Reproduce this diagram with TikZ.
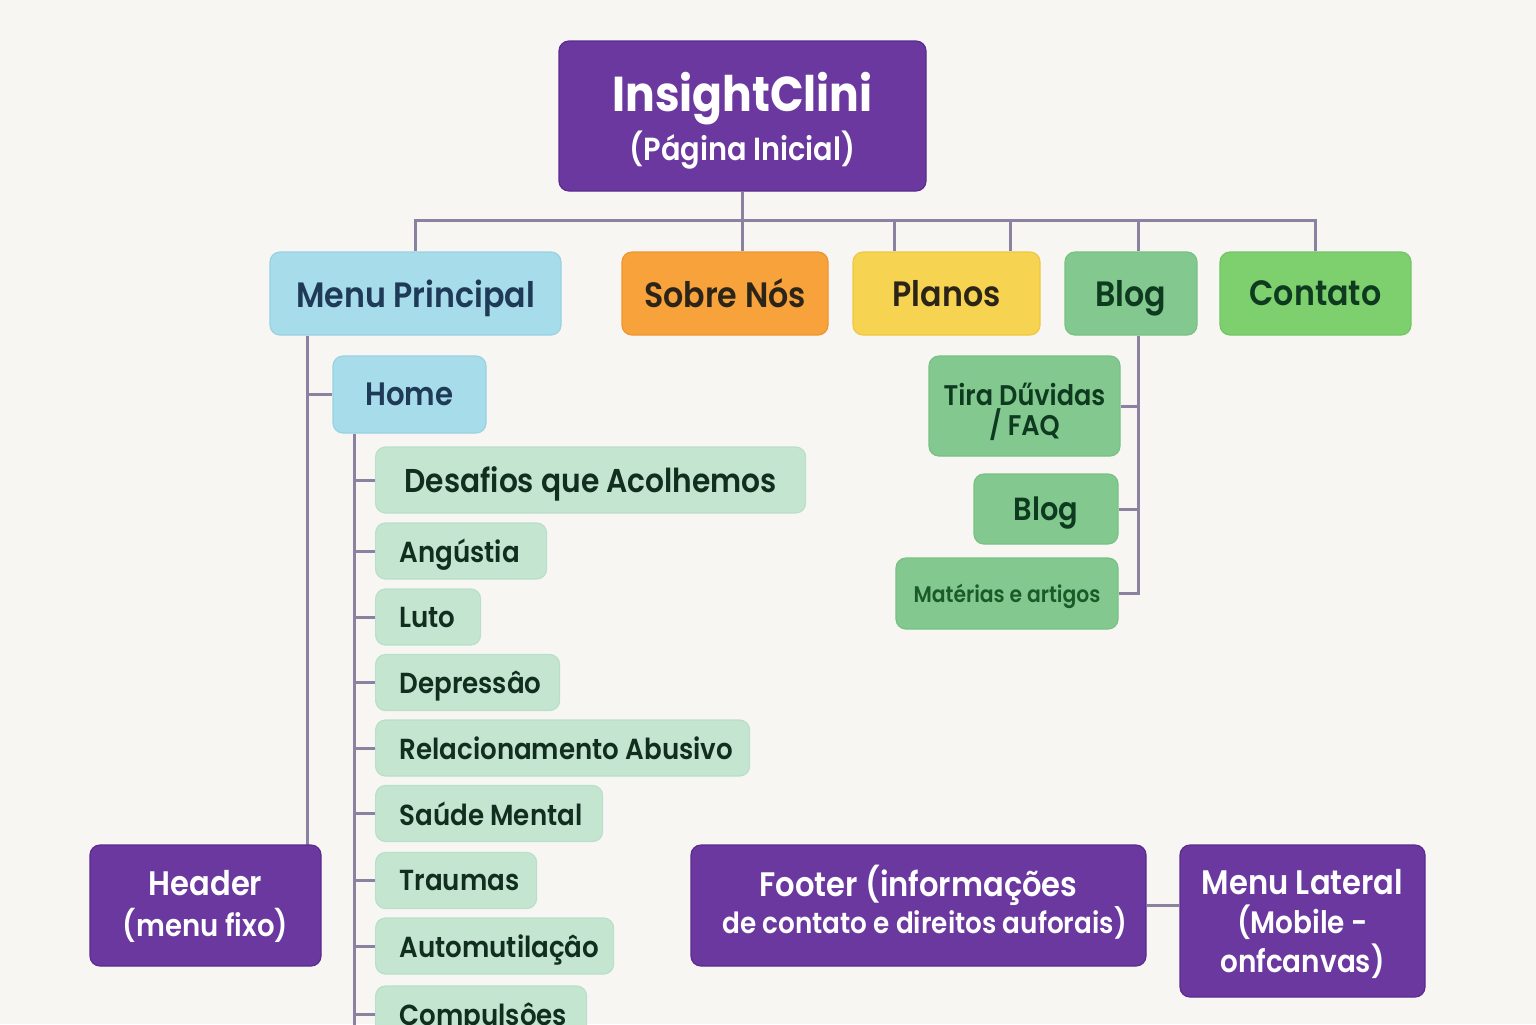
\documentclass[tikz,border=0pt]{standalone}
\usepackage{fontspec}
\setmainfont{Poppins}[FakeStretch=0.9, UprightFont=* SemiBold, BoldFont=* Bold]
\usetikzlibrary{positioning}

\definecolor{bg}{HTML}{F8F6F3}
\definecolor{wire}{HTML}{8A82A0}
\definecolor{purp}{HTML}{6A389F}
\definecolor{purpedge}{HTML}{5B2B8F}
\definecolor{sky}{HTML}{A7DCEA}
\definecolor{skyedge}{HTML}{9AD2E2}
\definecolor{navy}{HTML}{1E3A56}
\definecolor{orng}{HTML}{F7A23B}
\definecolor{orngedge}{HTML}{EE9530}
\definecolor{yell}{HTML}{F7D352}
\definecolor{yelledge}{HTML}{EFC744}
\definecolor{brown}{HTML}{2B2418}
\definecolor{leaf}{HTML}{83C98F}
\definecolor{leafedge}{HTML}{77C183}
\definecolor{lime}{HTML}{7ECF6E}
\definecolor{limeedge}{HTML}{72C663}
\definecolor{forest}{HTML}{0E3B20}
\definecolor{mint}{HTML}{C4E6D1}
\definecolor{mintedge}{HTML}{B9DFC8}
\definecolor{pine}{HTML}{112E1E}
\definecolor{grass}{HTML}{1B5A2A}

\tikzset{
  card/.style={rounded corners=5pt, line width=0.6pt, inner sep=0pt, align=center,
               text depth=0pt},
  purplecard/.style={card, fill=purp, draw=purpedge, text=white},
  skycard/.style={card, fill=sky, draw=skyedge, text=navy},
  mintitem/.style={card, fill=mint, draw=mintedge, text=pine, anchor=west,
                   inner xsep=12pt, minimum height=28pt,
                   font=\fontsize{14.5}{18}\selectfont},
  leafcard/.style={card, fill=leaf, draw=leafedge, text=forest},
  toplabel/.style={font=\fontsize{17.6}{21}\selectfont},
  link/.style={draw=wire, line width=1.5pt},
}
% lower a line of text without changing the space it takes
\newcommand\lowerby[2]{\raisebox{-#1}[\height][\depth]{#2}}

\begin{document}
\begin{tikzpicture}[x=0.5pt, y=-0.5pt]
  \useasboundingbox (0,0) rectangle (1536,1024);
  \fill[bg] (0,0) rectangle (1536,1024);
  \clip (0,0) rectangle (1536,1024);

  % root
  \node[purplecard, minimum width=183.5pt, minimum height=75pt] (root) at (742.5,116)
    {{\fontsize{24.5}{28}\selectfont\bfseries InsightClini}\\[2pt]{\fontsize{16}{19}\selectfont (Página Inicial)}};

  % first level
  \node[skycard, toplabel, minimum width=145.5pt, minimum height=41.5pt] (menu) at (415.5,293.5)
    {Menu Principal};
  \node[card, toplabel, fill=orng, draw=orngedge, text=brown, minimum width=103pt, minimum height=41.5pt] (sobre) at (725,293.5)
    {Sobre Nós};
  \node[card, toplabel, fill=yell, draw=yelledge, text=brown, minimum width=93.5pt, minimum height=41.5pt] (planos) at (946.5,293.5)
    {Planos};
  \node[leafcard, toplabel, minimum width=66pt, minimum height=41.5pt] (blog) at (1131,293.5)
    {Blog};
  \node[card, toplabel, fill=lime, draw=limeedge, text=forest, minimum width=95.5pt, minimum height=41.5pt] (contato) at (1315.5,293.5)
    {Contato};

  % root to first level
  \coordinate (bar) at (741,220);
  \draw[link] (root.south) -- (root.south |- sobre.north);
  \draw[link] (menu.north) |- (contato.north |- bar) -- (contato.north);
  \draw[link] ([xshift=-26.25pt]planos.north) -- ([xshift=-26.25pt]planos.north |- bar);
  \draw[link] ([xshift=31.75pt]planos.north) -- ([xshift=31.75pt]planos.north |- bar);
  \draw[link] ([xshift=3.5pt]blog.north) -- ([xshift=3.5pt]blog.north |- bar);

  % Home and its topics
  \node[skycard, font=\fontsize{16.2}{20}\selectfont, minimum width=76.5pt, minimum height=38.5pt] (home) at (409.5,394.5)
    {Home};

  \node[mintitem, inner xsep=14.5pt, minimum height=33pt, font=\fontsize{16.5}{20}\selectfont] (desafios) at (375,480)
    {\makebox[186pt][l]{Desafios que Acolhemos}};
  \node[mintitem] (angustia) at (375,551) {\makebox[61.5pt][l]{Angústia}};
  \node[mintitem] (luto) at (375,617) {\makebox[28.5pt][l]{Luto}};
  \node[mintitem] (depressao) at (375,682.5) {\makebox[68pt][l]{Depressâo}};
  \node[mintitem] (abusivo) at (375,748) {\makebox[163pt][l]{Relacionamento Abusivo}};
  \node[mintitem] (saude) at (375,813.5) {\makebox[89.5pt][l]{Saúde Mental}};
  \node[mintitem] (traumas) at (375,880.5) {\makebox[56.5pt][l]{Traumas}};
  \node[mintitem] (automut) at (375,946) {\makebox[95pt][l]{Automutilaçâo}};
  \node[mintitem] (compuls) at (375,1014) {\makebox[81.5pt][l]{Compulsôes}};

  % Menu Principal trunk
  \coordinate (mtrunk) at (307,0);
  \draw[link] (mtrunk |- menu.south) -- (mtrunk |- 0,845);
  \draw[link] (mtrunk |- home.west) -- (home.west);

  % Home trunk
  \coordinate (htrunk) at (354,0);
  \draw[link] (htrunk |- home.south) -- (htrunk |- 0,1030);
  \foreach \t in {desafios,angustia,luto,depressao,abusivo,saude,traumas,automut,compuls}
    \draw[link] (htrunk |- \t.west) -- (\t.west);

  % Blog children
  \node[leafcard, font=\fontsize{14.2}{15}\selectfont, minimum width=95.5pt, minimum height=50pt] (faq) at (1024.5,406)
    {\lowerby{1.8pt}{Tira Dűvidas}\\ \lowerby{1.8pt}{/ FAQ}};
  \node[leafcard, font=\fontsize{16}{20}\selectfont, minimum width=72pt, minimum height=35pt] (blogpost) at (1046,509)
    {Blog};
  \node[leafcard, text=grass, font=\fontsize{11.3}{14}\selectfont, minimum width=111pt, minimum height=35.5pt] (materias) at (1007,593.5)
    {Matérias e artigos};

  \coordinate (btrunk) at (1138,0);
  \draw[link] (btrunk |- blog.south) -- (btrunk |- materias.east) -- (materias.east);
  \draw[link] (btrunk |- faq.east) -- (faq.east);
  \draw[link] (btrunk |- blogpost.east) -- (blogpost.east);

  % layout parts
  \node[purplecard, text depth=2pt, minimum width=115.5pt, minimum height=60.5pt] (header) at (205.5,905.5)
    {{\fontsize{17}{20}\selectfont Header}\\[5pt]{\fontsize{15.3}{18}\selectfont (menu fixo)}};
  \node[purplecard, text depth=6pt, minimum width=227.5pt, minimum height=60.5pt] (footer) at (918.5,905.5)
    {{\fontsize{17}{20}\selectfont Footer (informações}\\[-0.5pt]{\fontsize{14.6}{18}\selectfont \hspace*{6pt}de contato e direitos auforais)}};
  \node[purplecard, minimum width=122.5pt, minimum height=76pt] (lateral) at (1302.5,921)
    {{\fontsize{17}{20}\selectfont Menu Lateral}\\[4pt]{\fontsize{15.5}{19}\selectfont (Mobile -}\\[1pt]{\fontsize{15.5}{19}\selectfont onfcanvas)}};
  \draw[link] (footer.east) -- (footer.east -| lateral.west);
\end{tikzpicture}
\end{document}
